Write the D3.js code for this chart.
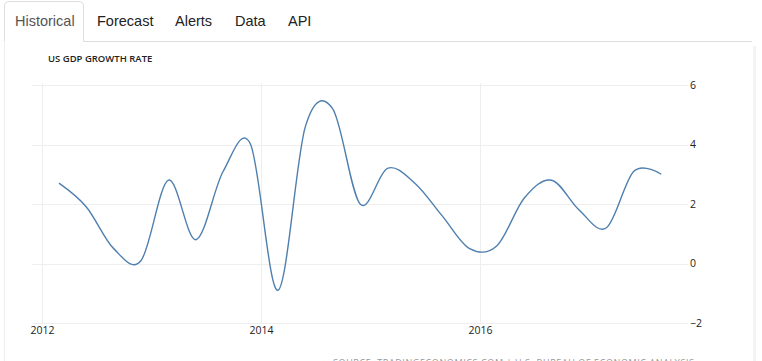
<!DOCTYPE html>
<html>
  <head>
    <meta charset="utf-8">
    <title>US GDP Growth Rate</title>
    <script src="https://d3js.org/d3.v7.min.js" charset="utf-8"></script>
    <style>
      body { margin: 0; background: #fff; }
      svg { display: block; }
    </style>
  </head>
  <body>
    <script>
      var width = 762;
      var height = 361;

      // quarterly GDP growth, 2012 Q1 .. 2017 Q3
      var quarters = ["2012Q1","2012Q2","2012Q3","2012Q4","2013Q1","2013Q2","2013Q3","2013Q4",
                      "2014Q1","2014Q2","2014Q3","2014Q4","2015Q1","2015Q2","2015Q3","2015Q4",
                      "2016Q1","2016Q2","2016Q3","2016Q4","2017Q1","2017Q2","2017Q3"];
      var growth = [2.7, 1.9, 0.5, 0.1, 2.8, 0.8, 3.1, 4.0,
                    -0.9, 4.6, 5.2, 2.0, 3.2, 2.7, 1.6, 0.5,
                    0.6, 2.2, 2.8, 1.8, 1.2, 3.1, 3.0];
      var yTicks = [-2, 0, 2, 4, 6];
      var xTicks = [2012, 2014, 2016];
      var tabs = ["Historical", "Forecast", "Alerts", "Data", "API"];
      var tabX = [15, 97, 175, 235, 288];

      // quarter string -> decimal year (mid quarter)
      function qTime(q) {
        return +q.slice(0, 4) + (+q.slice(5) - 1) / 4 + 0.155;
      }

      var svg = d3.select("body")
          .append("svg")
          .attr("width", width)
          .attr("height", height);

      // tab bar
      svg.append("path")
        .attr("d", "M4.5,41.5 L4.5,6 Q4.5,1.5 9,1.5 L79,1.5 Q83.5,1.5 83.5,6 L83.5,41.5")
        .attr("fill", "#fff")
        .attr("stroke", "#ddd");
      svg.append("line")
        .attr("x1", 83.5).attr("x2", 752)
        .attr("y1", 41.5).attr("y2", 41.5)
        .attr("stroke", "#ddd");
      svg.append("line")
        .attr("x1", 4.5).attr("x2", 4.5)
        .attr("y1", 41.5).attr("y2", height)
        .attr("stroke", "#eee");
      svg.append("rect")
        .attr("x", 753).attr("y", 46)
        .attr("width", 3).attr("height", height - 46)
        .attr("fill", "#f4f4f4");

      svg.selectAll("text.tab")
        .data(tabs)
        .enter()
        .append("text")
        .attr("class", "tab")
        .attr("x", function(d, i) { return tabX[i]; })
        .attr("y", 26)
        .attr("font-family", "Liberation Sans, Arial, sans-serif")
        .attr("font-size", 14.5)
        .attr("fill", function(d, i) { return i == 0 ? "#555" : "#222"; })
        .text(function(d) { return d; });

      svg.append("text")
        .attr("x", 48).attr("y", 62)
        .attr("font-family", "Open Sans, sans-serif")
        .attr("font-size", 9.5)
        .attr("font-weight", 600)
        .attr("fill", "#222")
        .text("US GDP GROWTH RATE");

      var x = d3.scaleLinear().domain([2012, 2016]).range([42, 480]);
      var y = d3.scaleLinear().domain([-2, 6]).range([323, 85]);

      var g = svg.append("g");

      // grid
      g.selectAll("line.hgrid")
        .data(yTicks)
        .enter()
        .append("line")
        .attr("class", "hgrid")
        .attr("x1", 32).attr("x2", 688)
        .attr("y1", function(d) { return Math.round(y(d)) + 0.5; })
        .attr("y2", function(d) { return Math.round(y(d)) + 0.5; })
        .attr("stroke", "#eeeeee");

      g.selectAll("line.vgrid")
        .data(xTicks)
        .enter()
        .append("line")
        .attr("class", "vgrid")
        .attr("x1", function(d) { return Math.round(x(d)) + 0.5; })
        .attr("x2", function(d) { return Math.round(x(d)) + 0.5; })
        .attr("y1", 83).attr("y2", 323)
        .attr("stroke", "#eeeeee");

      // axes labels
      var yAxis = d3.axisRight(y).tickValues(yTicks).tickSize(0).tickPadding(0)
        .tickFormat(d3.format("d"));
      svg.append("g")
        .attr("transform", "translate(690,0)")
        .call(yAxis)
        .call(function(a) { a.select(".domain").remove(); })
        .selectAll("text")
        .attr("font-family", "Open Sans, sans-serif")
        .attr("font-size", 10.5)
        .attr("fill", "#222");

      var xAxis = d3.axisBottom(x).tickValues(xTicks).tickSize(0).tickPadding(0)
        .tickFormat(d3.format("d"));
      svg.append("g")
        .attr("transform", "translate(0,327)")
        .call(xAxis)
        .call(function(a) { a.select(".domain").remove(); })
        .selectAll("text")
        .attr("font-family", "Open Sans, sans-serif")
        .attr("font-size", 10.5)
        .attr("fill", "#222");

      // series line
      var line = d3.line()
        .x(function(d, i) { return x(qTime(quarters[i])); })
        .y(function(d) { return y(d); })
        .curve(d3.curveCardinal.tension(0));

      g.append("path")
        .datum(growth)
        .attr("fill", "none")
        .attr("stroke", "#4e7fae")
        .attr("stroke-width", 1.4)
        .attr("d", line);

      // source, cut by the window edge as in the reference
      svg.append("text")
        .attr("x", 333).attr("y", 366)
        .attr("font-family", "Open Sans, sans-serif")
        .attr("font-size", 9)
        .attr("fill", "#999")
        .attr("letter-spacing", 0.6)
        .text("SOURCE: TRADINGECONOMICS.COM | U.S. BUREAU OF ECONOMIC ANALYSIS");
    </script>
  </body>
</html>
